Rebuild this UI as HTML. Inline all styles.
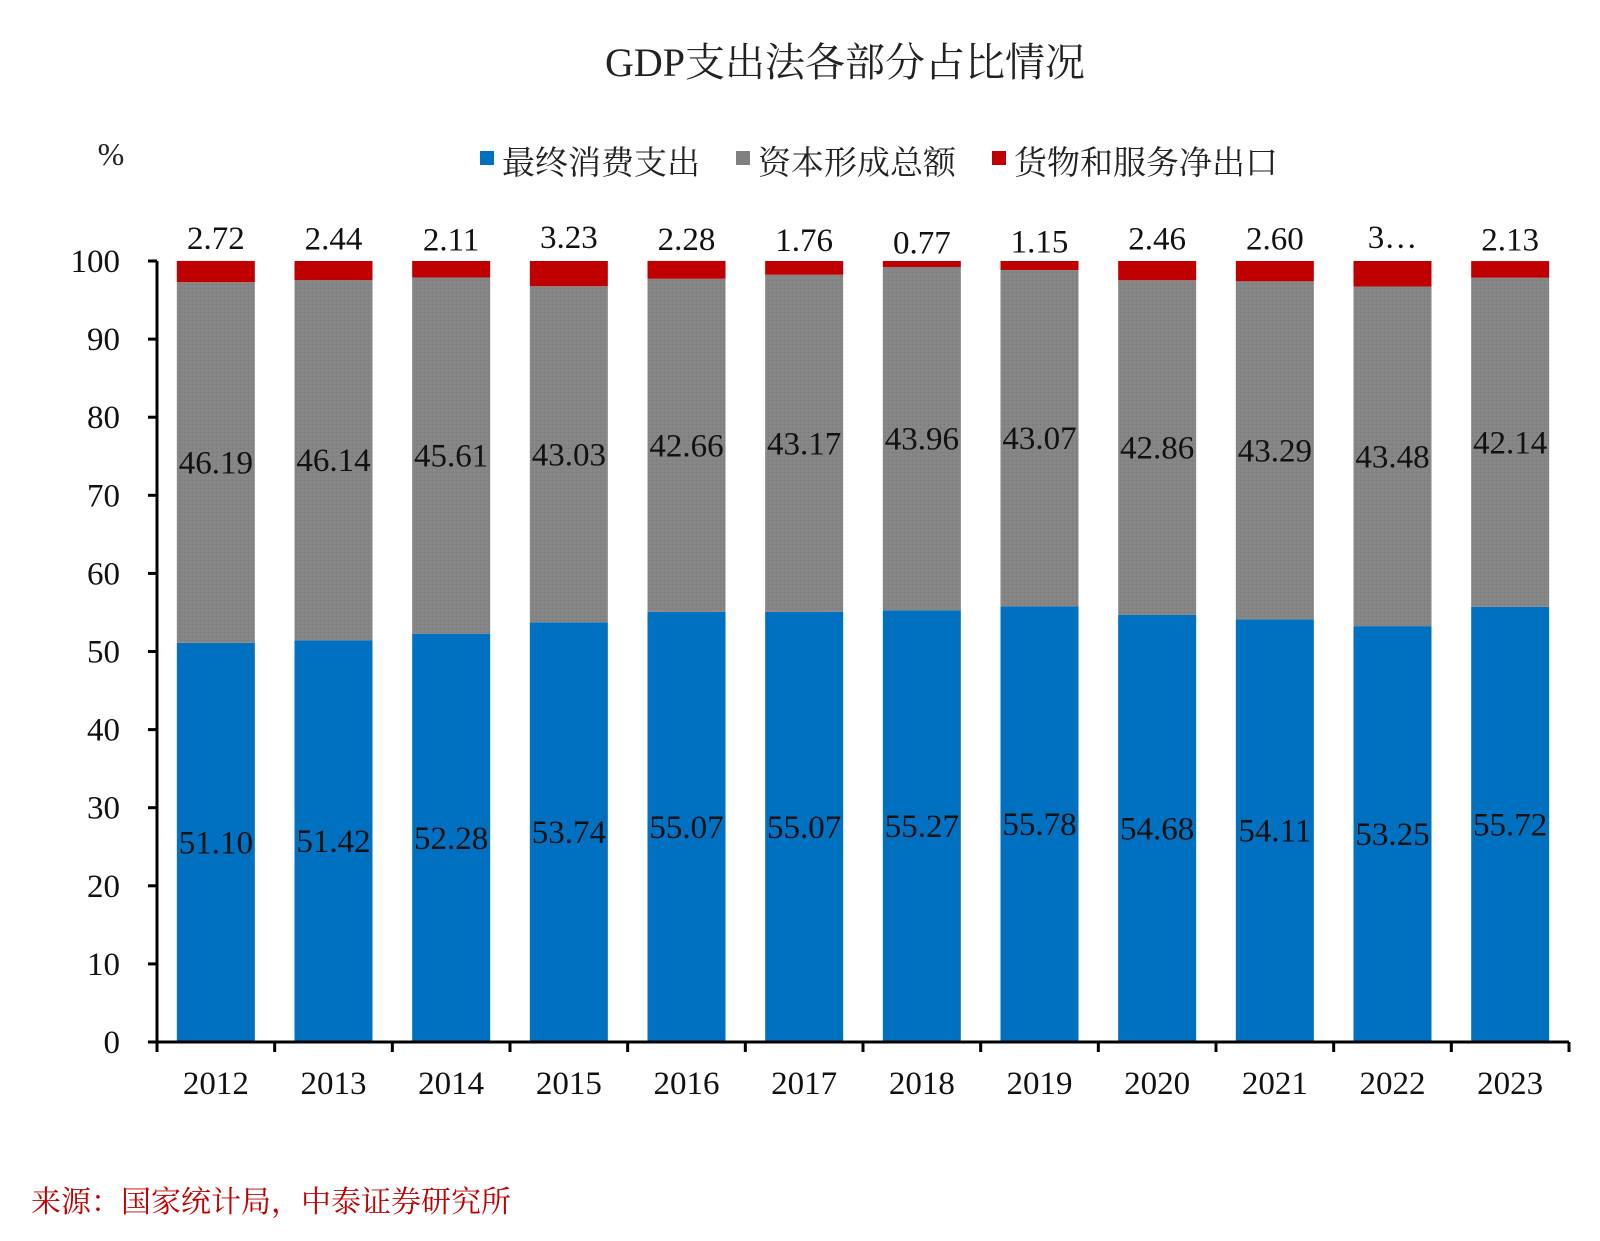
<!DOCTYPE html>
<html><head><meta charset="utf-8"><style>
body{margin:0;background:#fff;width:1600px;height:1236px;overflow:hidden}
svg text{font-family:"Liberation Serif","Noto Serif CJK SC",serif}
</style></head><body>
<svg id="chart" width="1600" height="1236">
<defs><pattern id="gp" width="4" height="4" patternUnits="userSpaceOnUse"><rect width="4" height="4" fill="#858585"/><rect width="1" height="1" fill="#7a7a7a"/><rect x="2" y="2" width="1" height="1" fill="#909090"/></pattern></defs>
<text x="845" y="76" font-size="40" text-anchor="middle" fill="#222">GDP支出法各部分占比情况</text>
<text x="111" y="165" font-size="32" text-anchor="middle" fill="#222">%</text>
<g>
<rect x="480" y="151" width="14" height="14" fill="#0070c0"/>
<text x="502" y="174" font-size="33" fill="#222">最终消费支出</text>
<rect x="736" y="151" width="14" height="14" fill="#808080"/>
<text x="758" y="174" font-size="33" fill="#222">资本形成总额</text>
<rect x="992" y="151" width="14" height="14" fill="#c00000"/>
<text x="1014" y="174" font-size="33" fill="#222">货物和服务净出口</text>
</g>
<g id="plot"></g>
<text x="31" y="1212" font-size="30" fill="#c00000">来源：国家统计局，中泰证券研究所</text>
</svg>
<script>
const years=["2012","2013","2014","2015","2016","2017","2018","2019","2020","2021","2022","2023"];
const consumption=[51.10,51.42,52.28,53.74,55.07,55.07,55.27,55.78,54.68,54.11,53.25,55.72];
const capital=[46.19,46.14,45.61,43.03,42.66,43.17,43.96,43.07,42.86,43.29,43.48,42.14];
const netExports=[2.72,2.44,2.11,3.23,2.28,1.76,0.77,1.15,2.46,2.60,3.27,2.13];
const yTicks=[0,10,20,30,40,50,60,70,80,90,100];
const NS="http://www.w3.org/2000/svg";
const g=document.getElementById('plot');
const x0=157,x1=1569,y0=1042,y100=261;
const cw=(x1-x0)/years.length,bw=78;
const Y=v=>y0-(y0-y100)*v/100;
const X=i=>x0+cw*i+cw/2;
function mk(t,a,txt){const e=document.createElementNS(NS,t);for(const k in a)e.setAttribute(k,a[k]);if(txt!=null)e.textContent=txt;g.appendChild(e);return e;}
years.forEach((yr,i)=>{
 const cx=X(i);
 const segs=[[0,consumption[i],'#0070c0','bar-consumption-'+yr],[consumption[i],consumption[i]+capital[i],'url(#gp)','bar-capital-'+yr],[consumption[i]+capital[i],consumption[i]+capital[i]+netExports[i],'#c00000','bar-net-exports-'+yr]];
 segs.forEach(s=>{const r=mk('rect',{x:cx-bw/2,y:Y(s[1]),width:bw,height:Y(s[0])-Y(s[1]),fill:s[2]});
  
  });
 let t=mk('text',{x:cx,y:Y(consumption[i]/2)+11,'font-size':33,'text-anchor':'middle',fill:'#111'},consumption[i].toFixed(2));
 
 
 t=mk('text',{x:cx,y:Y(consumption[i]+capital[i]/2)+11,'font-size':33,'text-anchor':'middle',fill:'#111'},capital[i].toFixed(2));
 
 
 const top=consumption[i]+capital[i]+netExports[i];
 t=mk('text',{x:cx,y:Y(Math.max(top,100))-6-netExports[i]*2.2,'font-size':33,'text-anchor':'middle',fill:'#111'},netExports[i]>=3.25?'3…':netExports[i].toFixed(2));
 
 
 t=mk('text',{x:cx,y:1094,'font-size':33,'text-anchor':'middle',fill:'#111'},yr);
 
 
});
yTicks.forEach(v=>{
 const l=mk('line',{x1:x0-9,x2:x0,y1:Y(v),y2:Y(v),stroke:'#000','stroke-width':3});
 
 
 const t=mk('text',{x:120,y:Y(v)+11,'font-size':33,'text-anchor':'end',fill:'#111'},String(v));
 
 
});
for(let i=0;i<=years.length;i++){
 const l=mk('line',{x1:x0+cw*i,x2:x0+cw*i,y1:y0,y2:y0+10,stroke:'#000','stroke-width':3});
 
 
}
let a=mk('line',{x1:x0,x2:x0,y1:y100,y2:y0+1,stroke:'#000','stroke-width':3});


a=mk('line',{x1:x0-9,x2:x1,y1:y0,y2:y0,stroke:'#000','stroke-width':3});


</script>
</body></html>
